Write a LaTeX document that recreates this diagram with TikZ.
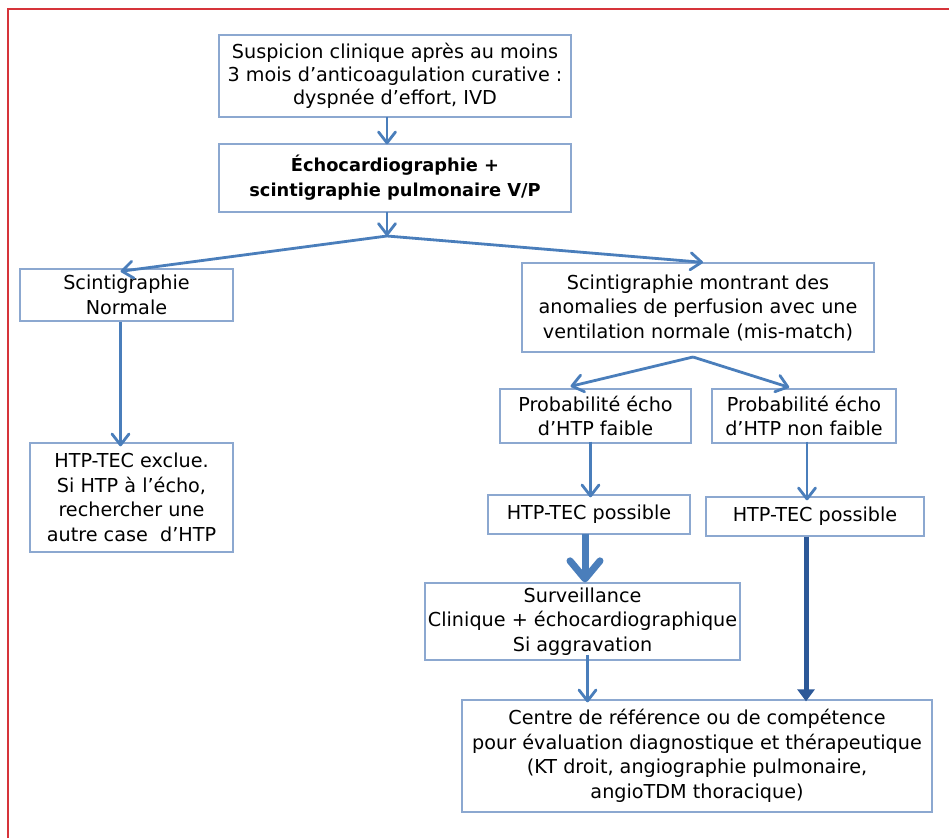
\documentclass[tikz,border=0pt]{standalone}
\usepackage{fontspec}
\setmainfont{DejaVu Sans}
\usetikzlibrary{arrows.meta, calc}
\definecolor{boxline}{RGB}{140,168,208}
\definecolor{arrblue}{RGB}{74,126,187}
\definecolor{arrdark}{RGB}{44,88,152}
\definecolor{framered}{RGB}{214,52,58}

\begin{document}
\begin{tikzpicture}[x=1pt,y=-1pt,
  box/.style={draw=boxline,line width=1.3pt,align=center,inner sep=0pt,
    font=\fontsize{19.2}{24.5}\selectfont},
  arr/.style={draw=arrblue,line width=2.8pt,-{Straight Barb[round,length=11pt,width=17pt]}},
  fat/.style={draw=arrblue,line width=7pt,-{Straight Barb[round,length=18pt,width=30pt]}},
  dark/.style={draw=arrdark,line width=5pt,-{Triangle[length=12pt,width=17pt]}}]
\useasboundingbox (0,0) rectangle (949,838);
\draw[framered,line width=2pt] (8,838) -- (8,9) -- (949,9);

\node[box,minimum width=352,minimum height=82,font=\fontsize{19.2}{23}\selectfont] (b1) at (395,76)
  {Suspicion clinique après au moins\\3 mois d'anticoagulation curative :\\dyspnée d'effort, IVD};
\node[box,minimum width=352,minimum height=68,font=\fontsize{17.8}{25}\selectfont\bfseries] (b2) at (395,178)
  {Échocardiographie +\\scintigraphie pulmonaire V/P};
\node[box,minimum width=213,minimum height=52] (b3) at (126.5,295) {Scintigraphie\\Normale};
\node[box,minimum width=203,minimum height=109] (b4) at (131.5,497.5)
  {HTP-TEC exclue.\\Si HTP à l'écho,\\rechercher une\\autre case \ d'HTP};
\node[box,minimum width=352,minimum height=89] (b5) at (698,307.5)
  {Scintigraphie montrant des\\anomalies de perfusion avec une\\ventilation normale (mis-match)};
\node[box,minimum width=191,minimum height=54] (b6) at (595.5,416) {Probabilité écho\\d'HTP faible};
\node[box,minimum width=184,minimum height=54] (b7) at (804,416) {Probabilité écho\\d'HTP non faible};
\node[box,minimum width=202,minimum height=39] (b8) at (589,514.5) {HTP-TEC possible};
\node[box,minimum width=218,minimum height=39] (b9) at (815,516.5) {HTP-TEC possible};
\node[box,minimum width=315,minimum height=77] (b10) at (582.5,621.5)
  {Surveillance\\Clinique + échocardiographique\\Si aggravation};
\node[box,minimum width=470,minimum height=112] (b11) at (697,756)
  {Centre de référence ou de compétence\\pour évaluation diagnostique et thérapeutique\\(KT droit, angiographie pulmonaire,\\angioTDM thoracique)};

\coordinate (f1) at (387,236);
\coordinate (f2) at (693,357);

\draw[arr] ([yshift=1]b1.south -| f1) -- ([yshift=-1]b2.north -| f1);
\draw[arr] ([yshift=1]b2.south -| f1) -- (f1);
\draw[arr] (f1) -- ([xshift=-6,yshift=-3]b3.north);
\draw[arr] (f1) -- ([xshift=5]b5.north);
\draw[arr] ([xshift=-6]b3.south) -- ([xshift=-6,yshift=-4]b3.south |- b4.north);
\draw[arr] (f2) -- ($(b6.north west)!0.37!(b6.north east)+(0,-2)$);
\draw[arr] (f2) -- ($(b7.north west)!0.42!(b7.north east)+(0,-1)$);
\draw[arr] ([xshift=-5,yshift=2]b6.south) -- ([xshift=-5,yshift=-3]b6.south |- b8.north);
\draw[arr] ([xshift=3,yshift=2]b7.south) -- ([xshift=3,yshift=-4]b7.south |- b9.north);
\draw[fat] ([xshift=-4,yshift=1]b8.south) -- ([xshift=-4]b8.south |- b10.north);
\draw[arr] ([xshift=5,yshift=6]b10.south) -- ([xshift=5,yshift=-3]b10.south |- b11.north);
\draw[dark] ([xshift=-9]b9.south) -- ([xshift=-9,yshift=-2]b9.south |- b11.north);
\end{tikzpicture}
\end{document}
